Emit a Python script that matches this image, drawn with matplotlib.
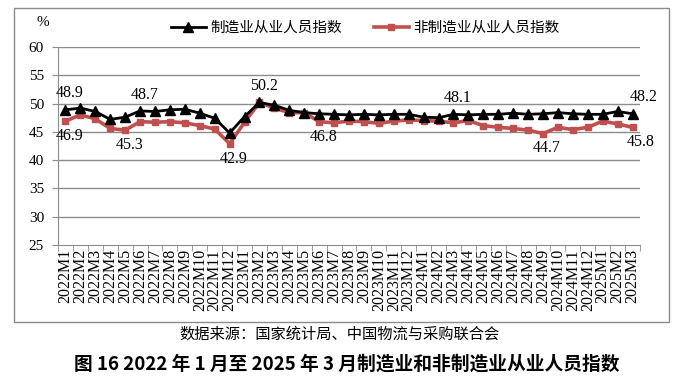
import matplotlib
matplotlib.use("Agg")
import matplotlib.pyplot as plt
from matplotlib.patches import Rectangle

plt.rcParams['font.family'] = ['Liberation Serif', 'Noto Sans CJK SC', 'DejaVu Sans']

months = []
for y in (2022, 2023, 2024):
    for m in range(1, 13):
        months.append(f"{y}M{m}")
months += ["2025M1", "2025M2", "2025M3"]

manufacturing = [48.9, 49.2, 48.6, 47.2, 47.6, 48.7, 48.6, 48.9, 49.0, 48.3, 47.4, 44.8,
                 47.7, 50.2, 49.7, 48.8, 48.4, 48.2, 48.1, 48.0, 48.1, 48.0, 48.1, 48.1,
                 47.6, 47.5, 48.1, 48.0, 48.1, 48.1, 48.3, 48.1, 48.2, 48.4, 48.2, 48.1,
                 48.1, 48.6, 48.2]
non_manufacturing = [46.9, 48.0, 47.3, 45.6, 45.3, 46.8, 46.7, 46.8, 46.6, 46.1, 45.5, 42.9,
                     46.7, 50.2, 49.2, 48.4, 48.4, 46.8, 46.6, 46.9, 46.8, 46.5, 46.9, 47.1,
                     47.0, 46.9, 46.6, 47.0, 46.1, 45.8, 45.6, 45.3, 44.7, 45.8, 45.4, 45.8,
                     46.9, 46.4, 45.8]

series_names = ["制造业从业人员指数", "非制造业从业人员指数"]
yticks = [25, 30, 35, 40, 45, 50, 55, 60]

# labelled points
labels_m = [0, 5, 13, 26, 38]
labels_n = [0, 4, 11, 17, 32, 38]

W, H = 680, 390
fig = plt.figure(figsize=(W / 100, H / 100), dpi=100)

# outer chart border
fig.patches.append(Rectangle((14 / W, 1 - 322 / H), (669 - 14) / W, (322 - 8) / H,
                             transform=fig.transFigure, fill=False,
                             edgecolor='#8c8c8c', linewidth=1.0))

ax = fig.add_axes([58 / W, 1 - 245 / H, 582 / W, 198 / H])
x = list(range(len(months)))

ax.plot(x, manufacturing, color='black', linewidth=2.0, marker='^', markersize=6.5,
        label=series_names[0], zorder=3)
ax.plot(x, non_manufacturing, color='#C0504D', linewidth=2.6, marker='s', markersize=5,
        label=series_names[1], zorder=2)

ax.set_xlim(-0.5, len(months) - 0.5)
ax.set_ylim(25, 60)
ax.set_yticks(yticks)
ax.set_yticklabels([str(t) for t in yticks], fontsize=11)
for t in yticks[1:]:
    ax.axhline(t, color='#8c8c8c', linewidth=1.0, zorder=0)

ax.set_xticks(x)
ax.set_xticklabels(months, rotation=90, fontsize=11.5)
ax.set_xticks([i - 0.5 for i in range(len(months) + 1)], minor=True)
ax.tick_params(axis='x', which='major', length=0, pad=3)
ax.tick_params(axis='x', which='minor', length=4, color='#8c8c8c', direction='out')
ax.tick_params(axis='y', length=4, color='#8c8c8c', direction='out', pad=6)

for s in ('top', 'right'):
    ax.spines[s].set_visible(False)
ax.spines['left'].set_color('#8c8c8c')
ax.spines['bottom'].set_color('#8c8c8c')

for i in labels_m:
    v = manufacturing[i]
    ax.annotate(f"{v:.1f}", (i, v), xytext=(3 if i != 38 else 8, 6), textcoords='offset points',
                ha='center', va='bottom', fontsize=11.5)
for i in labels_n:
    v = non_manufacturing[i]
    ax.annotate(f"{v:.1f}", (i, v), xytext=(3 if i != 38 else 6, -5), textcoords='offset points',
                ha='center', va='top', fontsize=11.5)

fig.text(43 / W, 1 - 23 / H, "%", fontsize=11, ha='center', va='center')

leg = fig.legend(loc='center', bbox_to_anchor=(365 / W, 1 - 28 / H), ncol=2, frameon=False,
                 prop={'family': ['Noto Sans CJK SC'], 'size': 10.5},
                 handlelength=2.4, columnspacing=2.2, handletextpad=0.3)

fig.text(340 / W, 1 - 334 / H, "数据来源：国家统计局、中国物流与采购联合会",
         fontsize=11, ha='center', va='center', family=['Noto Sans CJK SC'])
fig.text(347 / W, 1 - 364 / H, "图 16 2022 年 1 月至 2025 年 3 月制造业和非制造业从业人员指数",
         fontsize=13.5, ha='center', va='center', fontweight='bold', family=['Noto Sans CJK SC'])

fig.savefig("out.png", dpi=100)
